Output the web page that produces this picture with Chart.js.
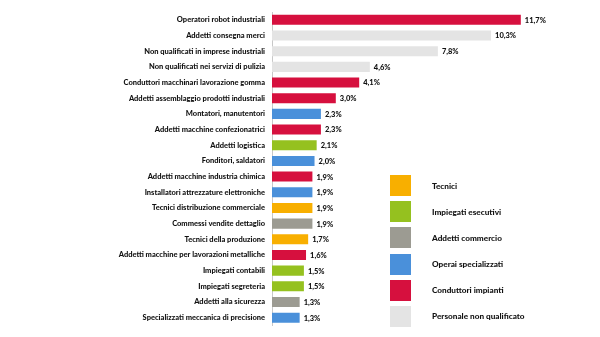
<!DOCTYPE html>
<html lang="it">
<head>
    <meta charset="UTF-8">
    <title>Professioni</title>
    <script src="https://cdn.jsdelivr.net/npm/chart.js"></script>
    <style>
        html, body {
            margin: 0;
            padding: 0;
            background: #fff;
            font-family: Lato, "Open Sans", sans-serif;
        }
        .wrap {
            position: relative;
            width: 600px;
            height: 337px;
        }
        .legend {
            position: absolute;
            left: 390px;
            top: 175px;
        }
        .legend .item {
            display: flex;
            align-items: center;
            height: 21px;
            margin-bottom: 5.2px;
            font-weight: 900;
            font-size: 8.2px;
            color: #111;
        }
        .legend .box {
            width: 21px;
            height: 21px;
            margin-right: 21px;
        }
    </style>
</head>
<body>
<div class="wrap">
    <canvas id="chart" width="600" height="337"></canvas>
    <div class="legend" id="legend"></div>
</div>

<script>
    const professions = [
        'Operatori robot industriali',
        'Addetti consegna merci',
        'Non qualificati in imprese industriali',
        'Non qualificati nei servizi di pulizia',
        'Conduttori macchinari lavorazione gomma',
        'Addetti assemblaggio prodotti industriali',
        'Montatori, manutentori',
        'Addetti macchine confezionatrici',
        'Addetti logistica',
        'Fonditori, saldatori',
        'Addetti macchine industria chimica',
        'Installatori attrezzature elettroniche',
        'Tecnici distribuzione commerciale',
        'Commessi vendite dettaglio',
        'Tecnici della produzione',
        'Addetti macchine per lavorazioni metalliche',
        'Impiegati contabili',
        'Impiegati segreteria',
        'Addetti alla sicurezza',
        'Specializzati meccanica di precisione'
    ];
    const shares = [11.7, 10.3, 7.8, 4.6, 4.1, 3.0, 2.3, 2.3, 2.1, 2.0,
                    1.9, 1.9, 1.9, 1.9, 1.7, 1.6, 1.5, 1.5, 1.3, 1.3];
    // group index of each profession (see groupNames)
    const groupOf = [4, 5, 5, 5, 4, 4, 3, 4, 1, 3,
                     4, 3, 0, 2, 0, 4, 1, 1, 2, 3];

    const groupNames = ['Tecnici', 'Impiegati esecutivi', 'Addetti commercio',
                        'Operai specializzati', 'Conduttori impianti', 'Personale non qualificato'];
    const groupColors = ['#F8AF00', '#95C11F', '#9C9B92', '#4A90DA', '#D6103E', '#E4E4E4'];

    const legendEl = document.getElementById('legend');
    groupNames.forEach((name, i) => {
        const item = document.createElement('div');
        item.className = 'item';
        item.innerHTML = '<span class="box" style="background:' + groupColors[i] + '"></span>' + name;
        legendEl.appendChild(item);
    });

    const labelFont = '900 7.5px Lato, "Open Sans", sans-serif';

    // writes the percentage just past the end of each bar
    const valueLabels = {
        id: 'valueLabels',
        afterDatasetsDraw(chart) {
            const c = chart.ctx;
            const meta = chart.getDatasetMeta(0);
            c.save();
            c.font = labelFont;
            c.fillStyle = '#111';
            c.textBaseline = 'middle';
            meta.data.forEach((bar, i) => {
                const txt = shares[i].toFixed(1).replace('.', ',') + '%';
                c.fillText(txt, bar.x + 4, bar.y + 0.5);
            });
            c.restore();
        }
    };

    new Chart(document.getElementById('chart'), {
        type: 'bar',
        data: {
            labels: professions,
            datasets: [{
                data: shares,
                backgroundColor: groupOf.map(g => groupColors[g]),
                borderWidth: 0,
                categoryPercentage: 0.8,
                barPercentage: 0.8
            }]
        },
        options: {
            indexAxis: 'y',
            responsive: false,
            animation: false,
            layout: { padding: { top: 12, right: 9, bottom: 0, left: 0 } },
            plugins: {
                legend: { display: false },
                tooltip: { enabled: false }
            },
            scales: {
                x: {
                    display: false,
                    min: 0,
                    max: 15
                },
                y: {
                    afterFit(scale) { scale.width = 272; },
                    grid: { display: false, drawTicks: false },
                    border: { display: true, color: '#c8c8c8', width: 1 },
                    ticks: {
                        color: '#111',
                        padding: 7,
                        autoSkip: false,
                        font: { family: 'Lato, "Open Sans", sans-serif', size: 7.5, weight: '900' }
                    }
                }
            }
        },
        plugins: [valueLabels]
    });
</script>
</body>
</html>
